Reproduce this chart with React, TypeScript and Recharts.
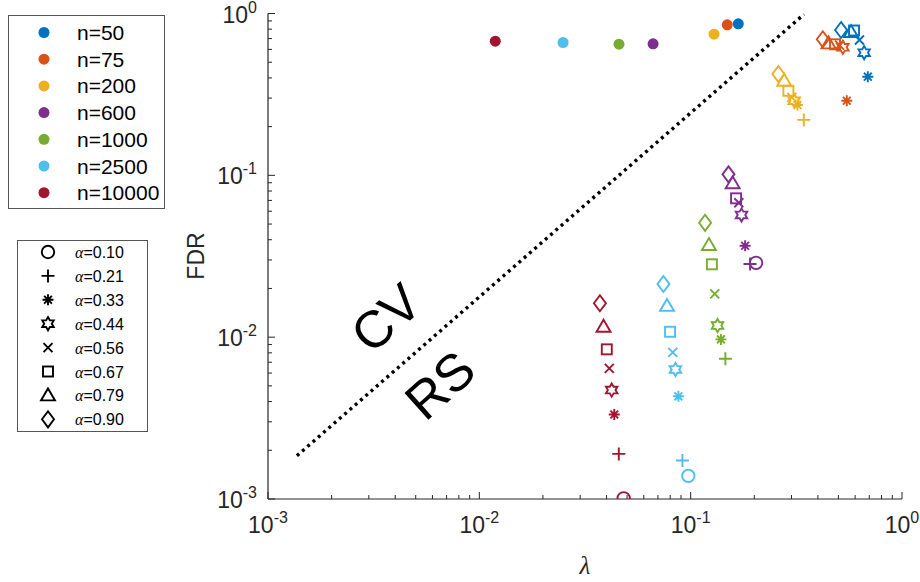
import React from 'react';
import { ScatterChart, Scatter, XAxis, YAxis } from 'recharts';

const sampleSizes = ['n=50', 'n=75', 'n=200', 'n=600', 'n=1000', 'n=2500', 'n=10000'];
const seriesColors = ['#0072BD', '#D95319', '#EDB120', '#7E2F8E', '#77AC30', '#4DBEEE', '#A2142F'];
const alphaLabels = ['0.10', '0.21', '0.33', '0.44', '0.56', '0.67', '0.79', '0.90'];
const alphaMarkers = ['circle', 'plus', 'asterisk', 'hexagram', 'x', 'square', 'triangle', 'diamond'];

// lambda picked by CV and its FDR, one per n
const cvLambda = [0.168, 0.149, 0.129, 0.0664, 0.0458, 0.0249, 0.0119];
const cvFdr = [0.863, 0.851, 0.745, 0.65, 0.646, 0.662, 0.674];

// RS lambda / FDR, rows = n, columns = alpha (null = not shown)
const rsLambda: (number | null)[][] = [
  [null, null, 0.689, 0.662, 0.629, 0.593, 0.574, 0.515],
  [null, null, 0.548, 0.525, 0.506, 0.482, 0.449, 0.422],
  [null, 0.343, 0.32, 0.309, 0.301, 0.29, 0.277, 0.26],
  [0.204, 0.191, 0.181, 0.174, 0.169, 0.164, 0.158, 0.151],
  [null, 0.146, 0.139, 0.134, 0.13, 0.126, 0.122, 0.117],
  [0.0975, 0.0914, 0.0875, 0.0847, 0.0823, 0.0799, 0.0773, 0.0743],
  [0.0482, 0.0457, 0.0435, 0.0423, 0.0412, 0.0401, 0.0387, 0.0372],
];
const rsFdr: (number | null)[][] = [
  [null, null, 0.407, 0.573, 0.686, 0.785, 0.768, 0.791],
  [null, null, 0.289, 0.618, 0.638, 0.645, 0.654, 0.693],
  [null, 0.22, 0.272, 0.289, 0.303, 0.333, 0.384, 0.423],
  [0.0288, 0.0283, 0.0367, 0.0569, 0.0677, 0.0721, 0.0893, 0.1014],
  [null, 0.00736, 0.00969, 0.0118, 0.0185, 0.0282, 0.0371, 0.0509],
  [0.00139, 0.00173, 0.00431, 0.00632, 0.00805, 0.0108, 0.0156, 0.0213],
  [0.00101, 0.0019, 0.00333, 0.00471, 0.00641, 0.00841, 0.0116, 0.0162],
];

// dotted CV / RS boundary
const boundaryLambda = [0.00137, 0.344];
const boundaryFdr = [0.00185, 0.99];

const majorTicks = [0.001, 0.01, 0.1, 1];
const tickExponents = ['-3', '-2', '-1', '0'];

const allTicks: number[] = [];
majorTicks.forEach((m, i) => {
  allTicks.push(m);
  if (i < majorTicks.length - 1) {
    for (let k = 2; k <= 9; k++) allTicks.push(+(m * k).toPrecision(6));
  }
});

const AX = '#262626';
const SANS = '"Liberation Sans", Arial, Helvetica, sans-serif';

const seriesData = sampleSizes.map((_, i) => {
  const pts: { lambda: number; fdr: number; kind: string }[] = [];
  rsLambda[i].forEach((l, j) => {
    const f = rsFdr[i][j];
    if (l != null && f != null) pts.push({ lambda: l, fdr: f, kind: alphaMarkers[j] });
  });
  pts.push({ lambda: cvLambda[i], fdr: cvFdr[i], kind: 'dot' });
  return pts;
});

const boundaryData = boundaryLambda.map((l, i) => ({ lambda: l, fdr: boundaryFdr[i] }));

function Marker({ cx, cy, kind, color }: { cx: number; cy: number; kind: string; color: string }) {
  const st = { fill: 'none', stroke: color, strokeWidth: 1.9 };
  switch (kind) {
    case 'dot':
      return <circle cx={cx} cy={cy} r={5.5} fill={color} />;
    case 'circle':
      return <circle cx={cx} cy={cy} r={6.2} {...st} />;
    case 'plus':
      return <path d={`M${cx - 6.5},${cy}H${cx + 6.5}M${cx},${cy - 6.5}V${cy + 6.5}`} {...st} />;
    case 'x':
      return <path d={`M${cx - 4.5},${cy - 4.5}L${cx + 4.5},${cy + 4.5}M${cx - 4.5},${cy + 4.5}L${cx + 4.5},${cy - 4.5}`} {...st} />;
    case 'asterisk': {
      const r = 5.5, d = r * 0.7071;
      return (
        <path
          d={`M${cx - r},${cy}H${cx + r}M${cx},${cy - r}V${cy + r}M${cx - d},${cy - d}L${cx + d},${cy + d}M${cx - d},${cy + d}L${cx + d},${cy - d}`}
          {...st}
        />
      );
    }
    case 'square':
      return <rect x={cx - 5} y={cy - 5} width={10} height={10} {...st} />;
    case 'triangle':
      return <polygon points={`${cx},${cy - 7} ${cx + 7},${cy + 5} ${cx - 7},${cy + 5}`} {...st} />;
    case 'diamond':
      return <polygon points={`${cx},${cy - 8} ${cx + 6},${cy} ${cx},${cy + 8} ${cx - 6},${cy}`} {...st} />;
    case 'hexagram': {
      const R = 6.6;
      const pts = [];
      for (let k = 0; k < 12; k++) {
        const a = ((-90 + 30 * k) * Math.PI) / 180;
        const rr = k % 2 === 0 ? R : R / Math.sqrt(3);
        pts.push(`${(cx + rr * Math.cos(a)).toFixed(2)},${(cy + rr * Math.sin(a)).toFixed(2)}`);
      }
      return <polygon points={pts.join(' ')} {...st} />;
    }
    default:
      return <g />;
  }
}

const isMajor = (v: number) => majorTicks.some((m) => Math.abs(m - v) < m * 1e-6);
const expOf = (v: number) => tickExponents[majorTicks.findIndex((m) => Math.abs(m - v) < m * 1e-6)];

const XTick = (props: any) => {
  const { x, y, payload } = props;
  const major = isMajor(payload.value);
  return (
    <g>
      <line x1={x} x2={x} y1={y} y2={y - (major ? 7 : 4)} stroke={AX} strokeWidth={1} />
      {major && (
        <text x={x} y={y + 34} textAnchor="middle" fontFamily={SANS} fontSize={23} fill={AX}>
          10
          <tspan dy={-10} fontSize={16}>
            {expOf(payload.value)}
          </tspan>
        </text>
      )}
    </g>
  );
};

const YTick = (props: any) => {
  const { x, y, payload } = props;
  const major = isMajor(payload.value);
  return (
    <g>
      <line x1={x} x2={x + (major ? 7 : 4)} y1={y} y2={y} stroke={AX} strokeWidth={1} />
      {major && (
        <text x={x - 11} y={y + 9} textAnchor="end" fontFamily={SANS} fontSize={23} fill={AX}>
          10
          <tspan dy={-10} fontSize={16}>
            {expOf(payload.value)}
          </tspan>
        </text>
      )}
    </g>
  );
};

export default function App() {
  return (
    <div style={{ position: 'absolute', left: 0, top: 0, width: 920, height: 582, background: '#fff' }}>
      <ScatterChart width={920} height={582} margin={{ top: 13.5, right: 18, bottom: 43, left: 208 }}>
        <XAxis
          type="number"
          dataKey="lambda"
          scale="log"
          domain={[0.001, 1]}
          allowDataOverflow
          ticks={allTicks}
          interval={0}
          tickSize={0}
          tickMargin={0}
          tickLine={false}
          tick={<XTick />}
          height={40}
          axisLine={{ stroke: AX, strokeWidth: 1.2 }}
        />
        <YAxis
          type="number"
          dataKey="fdr"
          scale="log"
          domain={[0.001, 1]}
          allowDataOverflow
          ticks={allTicks}
          interval={0}
          tickSize={0}
          tickMargin={0}
          tickLine={false}
          tick={<YTick />}
          width={60}
          axisLine={{ stroke: AX, strokeWidth: 1.2 }}
        />
        <Scatter
          data={boundaryData}
          line={{ stroke: '#000', strokeWidth: 3.4, strokeDasharray: '3 4' }}
          shape={() => <g />}
          isAnimationActive={false}
        />
        {sampleSizes.map((n, i) => (
          <Scatter
            key={n}
            name={n}
            data={seriesData[i]}
            isAnimationActive={false}
            shape={(p: any) => <Marker cx={p.cx} cy={p.cy} kind={p.payload.kind} color={seriesColors[i]} />}
          />
        ))}
      </ScatterChart>

      <svg width={920} height={582} style={{ position: 'absolute', left: 0, top: 0, pointerEvents: 'none' }}>
        {/* n legend */}
        <rect x={8.5} y={15.5} width={156} height={193} fill="#fff" stroke="#555" strokeWidth={1} />
        {sampleSizes.map((n, i) => (
          <g key={n}>
            <circle cx={44} cy={32.5 + i * 26.7} r={5.5} fill={seriesColors[i]} />
            <text x={77} y={32.5 + i * 26.7 + 7.5} fontFamily={SANS} fontSize={21} fill="#000">
              {n}
            </text>
          </g>
        ))}

        {/* alpha legend */}
        <rect x={17.5} y={240.5} width={130} height={191} fill="#fff" stroke="#555" strokeWidth={1} />
        {alphaLabels.map((a, j) => {
          const cy = 252 + j * 23.9;
          return (
            <g key={a}>
              <Marker cx={48} cy={cy} kind={alphaMarkers[j]} color="#000" />
              <text x={75} y={cy + 6} fontSize={16} fill="#000" fontFamily={SANS}>
                <tspan fontFamily='"Liberation Serif", "Times New Roman", serif' fontStyle="italic">
                  α
                </tspan>
                ={a}
              </text>
            </g>
          );
        })}

        {/* axis labels */}
        <text
          transform="translate(196,256) rotate(-90)"
          textAnchor="middle"
          dominantBaseline="central"
          fontFamily={SANS}
          fontSize={23}
          fill={AX}
        >
          FDR
        </text>
        <text
          x={585}
          y={574}
          textAnchor="middle"
          fontFamily='"Liberation Serif", "Times New Roman", serif'
          fontStyle="italic"
          fontSize={25}
          fill={AX}
        >
          λ
        </text>

        {/* region annotations */}
        <text
          transform="translate(386,318) rotate(-42)"
          textAnchor="middle"
          dominantBaseline="central"
          fontFamily={SANS}
          fontSize={52}
          fill="#000"
        >
          CV
        </text>
        <text
          transform="translate(440,385) rotate(-42)"
          textAnchor="middle"
          dominantBaseline="central"
          fontFamily={SANS}
          fontSize={52}
          fill="#000"
        >
          RS
        </text>
      </svg>
    </div>
  );
}
